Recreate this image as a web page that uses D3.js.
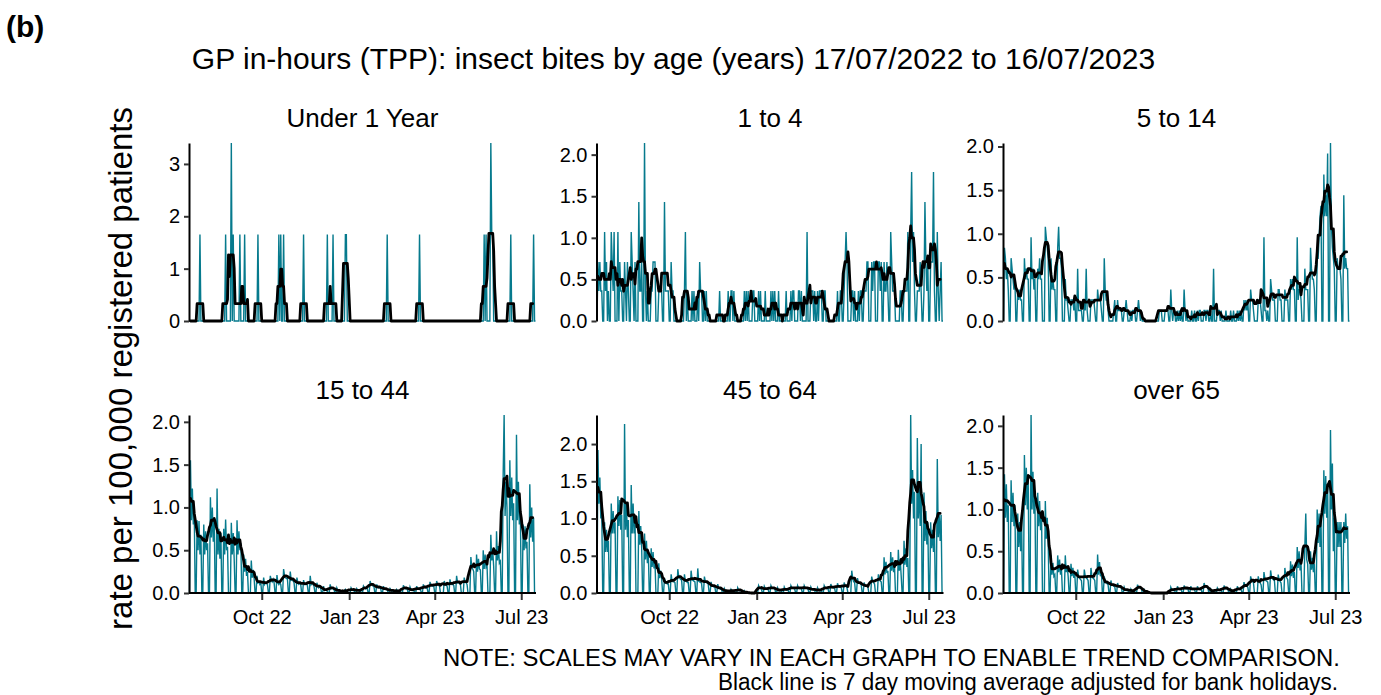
<!DOCTYPE html>
<html>
<head>
<meta charset="utf-8">
<script src="https://cdn.jsdelivr.net/npm/d3@7"></script>
<style>
  body { margin: 0; background: #fff; }
  svg { display: block; }
  text { font-family: "Liberation Sans", Arial, Helvetica, sans-serif; fill: #000; }
</style>
</head>
<body>
<svg id="chart" width="1381" height="695"></svg>
<script>
// ---- period and calendar ----
const startDate = "2022-07-17";
const endDate = "2023-07-16";
const bankHolidays = ["2022-08-29", "2022-09-19", "2022-12-26", "2022-12-27", "2023-01-02",
                      "2023-04-07", "2023-04-10", "2023-05-01", "2023-05-08", "2023-05-29"];

const panelTitles = ["Under 1 Year", "1 to 4", "5 to 14", "15 to 44", "45 to 64", "over 65"];
const tickDates = ["2022-10-01", "2023-01-01", "2023-04-01", "2023-07-01"];
const tickLabels = ["Oct 22", "Jan 23", "Apr 23", "Jul 23"];
const yTicksUnder1 = [0, 1, 2, 3];
const yTicksOther = [0, 0.5, 1, 1.5, 2];

// ---- Under 1 Year: the few days with any consultation (days since 17/07/2022) ----
const under1Days  = [11, 38, 44, 46, 53, 58, 72, 94, 96, 99, 120, 145, 151, 164, 165,
                     208, 242, 310, 312, 317, 318, 319, 338, 362];
const under1Rates = [1.65, 1.65, 3.4, 1.65, 1.65, 1.65, 1.65, 1.65, 1.65, 1.65, 1.65, 1.65, 1.65, 1.65, 1.65,
                     1.65, 1.65, 1.65, 1.65, 3.4, 1.65, 1.65, 1.65, 1.65];

// ---- other bands: daily rate, Monday..Friday of each week (weeks start Sun 17/07/2022) ----
const rate1to4 = [
  [0.71,0.36,0.71,0.36,0.36],[1.07,0.36,0.71,0,0.36],[1.07,0.71,0.36,1.07,0],[1.07,0,0.71,0.36,0.36],
  [0.71,0.36,0,0.71,0.36],[1.07,0.71,0.36,0,0.71],[0,1.43,0.36,0.36,0.71],[2.14,0.36,0,0.36,0],
  [0.36,0.36,0.71,0.71,0.71],[0,0.36,0.36,0.36,0.36],[1.43,0.36,0.36,0.36,0.36],[0.71,0.36,0.36,0,0],
  [0,0,0,0,0],[0.36,1.07,0,0.36,0],[0,0.36,0,0.36,0],[0.36,0,0.71,0.36,0.36],
  [0.36,0,0.36,0,0],[0,0,0,0,0],[0,0,0.36,0,0],[0,0,0,0,0.36],
  [0.36,0.36,0,0.36,0],[0,0,0,0,0],[0.36,0,0.36,0,0.36],[0,0,0.36,0.36,0],
  [0,0.36,0,0.36,0],[0,0.36,0,0,0],[0.36,0,0.36,0,0.36],[0,0.36,0,0,0],
  [0,0,0.36,0,0],[0.36,0,0.36,0.36,0],[0,0.36,0.36,0,0.36],[0,0,0,1.07,0],
  [0.36,0.36,0.36,0,0.36],[0.36,0,0.36,0.36,0.36],[0.36,0.36,0,0,0],[0,0,0,0,0],
  [0.36,0,0,0.36,0.36],[0.36,0.71,1.07,0.71,0],[0,0.36,0.36,0,0.36],[0,0.36,0,0.36,0.36],
  [0.36,0.36,0.36,0.71,0.71],[0,0.71,0.36,0.71,0.71],[0,0.71,0.71,0.36,0.71],[0.71,0.36,0.36,0.71,0.36],
  [1.07,0.71,0.36,0.36,0.36],[0,0,0,0.36,0.36],[0.36,0.36,0.36,0.36,1.07],[1.07,1.79,0.71,1.07,0.36],
  [0.36,0.36,0.36,0.71,0.36],[0.36,1.43,0.71,0.36,0.71],[0.71,0.71,0.71,1.79,0.36],[1.07,0.36,0,0.36,0.71]
];

const rate5to14 = [
  [0.84,0.72,0.48,0.6,0.36],[0.72,0.6,0.48,0.36,0.48],[0.36,0.24,0.36,0.24,0.24],[0.72,0.48,0.6,0.48,0.48],
  [0.96,0.48,0.6,0.36,0.48],[0.6,0.48,0.72,0.48,0.48],[0,1.08,0.96,0.84,0.72],[0.72,0.36,0.48,0.36,0.36],
  [0.84,1.08,0.72,0.72,0.6],[0,0.48,0.24,0.24,0.12],[0.24,0.24,0.24,0.12,0.24],[0.6,0.12,0.12,0.12,0.12],
  [0.24,0.12,0.6,0.12,0],[0.24,0.24,0.24,0.24,0.12],[0.36,0.24,0.24,0.24,0.12],[0.72,0.36,0.24,0.24,0.12],
  [0,0,0,0.12,0.24],[0.24,0.12,0.12,0.12,0.12],[0.12,0.12,0.24,0.12,0],[0.12,0,0.12,0.12,0.12],
  [0.12,0.24,0.12,0,0.12],[0,0,0,0,0],[0,0,0,0,0],[0,0,0.12,0.12,0.12],
  [0,0.12,0.12,0.12,0.12],[0.36,0.12,0,0.12,0.12],[0.12,0,0.12,0,0.12],[0.36,0.12,0,0.12,0],
  [0,0.12,0,0,0.12],[0.12,0,0.12,0.12,0],[0.12,0.12,0,0.12,0.12],[0.12,0,0,0.6,0],
  [0.12,0.12,0.12,0,0.12],[0,0,0.12,0,0],[0.12,0,0,0.12,0],[0.12,0,0.12,0,0.12],
  [0.24,0.12,0.24,0.12,0.24],[0.36,0.24,0.24,0.12,0],[0,0.24,0.24,0.24,0.12],[0.96,0.12,0.12,0,0.12],
  [0.48,0.36,0.24,0.24,0.24],[0,0.36,0.36,0.24,0.24],[0,0.36,0.24,0.24,0.24],[0.48,0.36,0.48,0.36,0.36],
  [0.96,0.24,0.36,0.36,0.24],[0,0.6,0.36,0.36,0.36],[0.84,0.6,0.48,0.48,0.36],[0.72,0.72,0.96,1.2,1.32],
  [1.68,1.2,1.44,1.2,1.92],[2.04,1.08,0.84,0.72,0.6],[0.72,0.6,0.6,0.6,0.48],[1.44,0.6,0.72,0.6,0.6]
];

const rate15to44 = [
  [1.55,0.85,1.22,0.8,0.93],[0.85,0.5,0.84,0.45,0.68],[0.8,0.45,0.72,0.5,0.58],[1.12,0.65,1.0,0.6,0.88],
  [1.22,0.45,0.75,0.4,0.7],[0.75,0.45,0.86,0.5,0.54],[0,0.82,0.45,0.7,0.4],[0.85,0.45,0.72,0.5,0.58],
  [0.45,0.25,0.4,0.2,0.25],[0,0.38,0.18,0.27,0.17],[0.2,0.12,0.13,0.1,0.12],[0.18,0.1,0.12,0.11,0.1],
  [0.2,0.15,0.13,0.16,0.12],[0.21,0.12,0.1,0.12,0.1],[0.28,0.2,0.18,0.17,0.17],[0.25,0.15,0.16,0.14,0.12],
  [0.18,0.12,0.1,0.11,0.1],[0.15,0.1,0.1,0.11,0.09],[0.2,0.1,0.12,0.1,0.08],[0.12,0.08,0.06,0.08,0.06],
  [0.08,0.03,0.04,0.03,0.02],[0.1,0.05,0.06,0.05,0.04],[0.06,0.03,0.02,0.03,0.01],[0,0,0.04,0.02,0.02],
  [0,0.06,0.04,0.03,0.03],[0.05,0.03,0.03,0.02,0.02],[0.08,0.06,0.05,0.06,0.05],[0.14,0.1,0.1,0.08,0.08],
  [0.1,0.07,0.06,0.06,0.06],[0.08,0.05,0.04,0.04,0.04],[0.05,0.03,0.02,0.03,0.02],[0.04,0.02,0.03,0.02,0.02],
  [0.09,0.06,0.05,0.05,0.05],[0.07,0.04,0.03,0.03,0.03],[0.08,0.05,0.05,0.04,0.04],[0.1,0.07,0.06,0.06,0.06],
  [0.13,0.09,0.08,0.08,0.08],[0.14,0.1,0.09,0.08,0],[0,0.14,0.1,0.09,0.08],[0.16,0.11,0.1,0.1,0.09],
  [0.2,0.12,0.12,0.11,0.1],[0,0.18,0.13,0.12,0.1],[0,0.42,0.3,0.28,0.25],[0.45,0.25,0.4,0.28,0.27],
  [0.5,0.28,0.45,0.3,0.32],[0,0.68,0.38,0.5,0.31],[0.72,0.38,0.55,0.35,0.37],[1.4,2.08,0.9,1.3,1.0],
  [1.55,0.9,1.35,0.85,1.05],[1.85,0.85,1.3,0.8,1.0],[0.8,0.5,0.78,0.52,0.6],[1.27,0.65,1.0,0.6,0.88]
];

const rate45to64 = [
  [1.92,1.2,1.55,1.0,1.1],[0.95,0.55,0.85,0.55,0.7],[1.2,0.8,1.1,0.8,0.95],[1.3,0.9,1.25,0.85,1.05],
  [2.27,0.85,1.2,0.75,0.98],[1.45,0.8,1.2,0.8,1.0],[0,1.1,0.65,0.9,0.6],[0.8,0.45,0.7,0.4,0.55],
  [0.6,0.35,0.55,0.33,0.42],[0,0.4,0.2,0.3,0.2],[0.2,0.14,0.13,0.12,0.12],[0.25,0.16,0.15,0.15,0.14],
  [0.32,0.22,0.2,0.18,0.18],[0.25,0.16,0.16,0.14,0.14],[0.3,0.18,0.17,0.16,0.15],[0.33,0.16,0.15,0.14,0.13],
  [0.22,0.15,0.14,0.13,0.12],[0.15,0.1,0.09,0.08,0.08],[0.12,0.07,0.06,0.05,0.05],[0.06,0.03,0.02,0.02,0.02],
  [0.05,0.03,0.03,0.02,0.02],[0.07,0.04,0.03,0.03,0.03],[0.03,0.01,0,0.01,0],[0,0,0,0,0],
  [0,0.1,0.07,0.06,0.05],[0.09,0.06,0.05,0.05,0.05],[0.1,0.07,0.06,0.06,0.06],[0.07,0.04,0.03,0.03,0.03],
  [0.08,0.05,0.04,0.04,0.04],[0.1,0.07,0.07,0.06,0.05],[0.1,0.07,0.06,0.06,0.06],[0.1,0.07,0.07,0.06,0.05],
  [0.08,0.05,0.05,0.04,0.03],[0.07,0.04,0.03,0.03,0.03],[0.1,0.07,0.06,0.06,0.06],[0.12,0.08,0.07,0.07,0.06],
  [0.13,0.09,0.08,0.08,0.07],[0.14,0.1,0.09,0.07,0],[0,0.3,0.2,0.15,0.15],[0.2,0.14,0.13,0.12,0.11],
  [0.14,0.1,0.09,0.09,0.08],[0,0.22,0.16,0.14,0.12],[0,0.25,0.18,0.16,0.15],[0.48,0.25,0.42,0.27,0.3],
  [0.55,0.3,0.48,0.28,0.36],[0,0.58,0.3,0.45,0.23],[0.7,0.38,0.6,0.35,0.47],[2.39,1.2,1.65,1.0,1.36],
  [2.08,1.0,1.45,0.9,2.0],[1.35,0.7,1.1,0.65,0.95],[0.95,0.6,0.85,0.55,0.8],[1.8,0.75,1.05,0.7,1.05]
];

const rateOver65 = [
  [1.42,0.9,1.3,0.85,1.05],[1.35,0.85,1.2,0.8,1.05],[0.95,0.55,0.85,0.5,0.9],[1.65,1.05,1.5,1.0,1.35],
  [2.13,1.0,1.45,0.95,1.2],[1.2,0.8,1.1,0.75,0.95],[0,1.1,0.65,0.9,0.6],[0.45,0.22,0.36,0.2,0.22],
  [0.45,0.25,0.4,0.22,0.28],[0,0.45,0.25,0.33,0.2],[0.35,0.2,0.3,0.18,0.23],[0.28,0.2,0.18,0.16,0.15],
  [0.28,0.2,0.18,0.17,0.15],[0.3,0.2,0.18,0.17,0.15],[0.46,0.22,0.37,0.2,0.25],[0.2,0.13,0.12,0.11,0.1],
  [0.15,0.1,0.09,0.08,0.08],[0.12,0.08,0.07,0.07,0.06],[0.07,0.04,0.03,0.03,0.03],[0.05,0.03,0.02,0.02,0.02],
  [0.1,0.07,0.06,0.06,0.06],[0.04,0.02,0.02,0.01,0.01],[0,0,0,0,0],[0,0,0,0,0],
  [0,0,0,0,0],[0.07,0.04,0.03,0.03,0.03],[0.08,0.05,0.04,0.04,0.04],[0.09,0.06,0.05,0.05,0.05],
  [0.08,0.05,0.04,0.04,0.04],[0.08,0.05,0.04,0.04,0.04],[0.12,0.08,0.07,0.07,0.06],[0.05,0.03,0.02,0.02,0.02],
  [0.06,0.04,0.03,0.03,0.03],[0.09,0.06,0.05,0.05,0.05],[0.05,0.03,0.02,0.02,0.02],[0.08,0.05,0.04,0.04,0.04],
  [0.13,0.09,0.08,0.08,0.07],[0.2,0.15,0.14,0.12,0],[0,0.2,0.14,0.12,0.1],[0.25,0.17,0.15,0.14,0.13],
  [0.27,0.19,0.17,0.16,0.15],[0,0.22,0.16,0.14,0.12],[0,0.3,0.2,0.18,0.16],[0.38,0.2,0.34,0.18,0.25],
  [0.55,0.3,0.5,0.27,0.35],[0,0.55,0.95,0.4,0.35],[0.5,0.28,0.42,0.25,0.35],[1.0,0.6,0.95,0.55,0.9],
  [1.47,0.95,1.4,0.9,1.28],[1.95,1.0,1.55,0.5,0.9],[0.85,0.55,0.85,0.55,0.85],[0.85,0.6,0.95,0.65,0.8]
];

// ---- build daily series ----
const parse = d3.utcParse("%Y-%m-%d");
const t0 = parse(startDate), t1 = parse(endDate);
const days = d3.utcDay.range(t0, d3.utcDay.offset(t1, 1));
const holidaySet = new Set(bankHolidays);
const fmtKey = d3.utcFormat("%Y-%m-%d");
const isWorkday = days.map(d => d.getUTCDay() !== 0 && d.getUTCDay() !== 6 && !holidaySet.has(fmtKey(d)));

function fromSparse(idx, vals) {
  const out = days.map(() => 0);
  idx.forEach((d, i) => { out[d] = vals[i]; });
  return out;
}
function fromWeeks(weeks) {
  return days.map((d, i) => {
    const wd = d.getUTCDay();
    if (wd === 0 || wd === 6) return 0;
    const w = Math.floor(i / 7);
    return weeks[w] ? weeks[w][wd - 1] : 0;
  });
}
const series = [
  fromSparse(under1Days, under1Rates),
  fromWeeks(rate1to4),
  fromWeeks(rate5to14),
  fromWeeks(rate15to44),
  fromWeeks(rate45to64),
  fromWeeks(rateOver65)
];

// centred 7-day mean over the working days in the window (weekends and bank holidays excluded)
function movingAverage(vals) {
  return vals.map((_, i) => {
    let s = 0, n = 0;
    for (let j = i - 3; j <= i + 3; j++) {
      if (j < 0 || j >= vals.length) continue;
      s += vals[j];
      if (isWorkday[j]) n++;
    }
    return n ? s / n : 0;
  });
}

// ---- layout ----
const svg = d3.select("#chart");
const colLeft = [189, 596.5, 1003];
const panelW = 347;
const rowTop = [143, 415], rowBottom = [321, 593];
const teal = "#067A8D";

svg.append("text").attr("x", 6).attr("y", 37)
  .style("font-size", "30px").style("font-weight", "bold").text("(b)");
svg.append("text").attr("x", 673.5).attr("y", 69).attr("text-anchor", "middle")
  .style("font-size", "30px")
  .text("GP in-hours (TPP): insect bites by age (years) 17/07/2022 to 16/07/2023");
svg.append("text").attr("transform", "translate(132,368.5) rotate(-90)")
  .attr("text-anchor", "middle").style("font-size", "33px")
  .text("rate per 100,000 registered patients");

series.forEach((vals, p) => {
  const col = p % 3, row = Math.floor(p / 3);
  const L = colLeft[col];
  const top = rowTop[row], bottom = rowBottom[row];
  const x = d3.scaleUtc().domain([t0, t1]).range([L + 0.5, L + panelW - 0.5]);
  const y = d3.scaleLinear().domain([0, d3.max(vals)]).range([bottom, top]);
  const ma = movingAverage(vals);
  const g = svg.append("g");

  g.append("path")
    .datum(vals)
    .attr("fill", "none").attr("stroke", teal).attr("stroke-width", 1.4)
    .attr("d", d3.line().x((d, i) => x(days[i])).y(d => y(d)));

  const maIdx = d3.range(1, 362);
  g.append("path")
    .datum(maIdx)
    .attr("fill", "none").attr("stroke", "#000").attr("stroke-width", 2.8)
    .attr("stroke-linejoin", "round").attr("stroke-linecap", "round")
    .attr("d", d3.line().x(i => x(days[i])).y(i => y(ma[i])));

  // y axis
  const yAxis = d3.axisLeft(y)
    .tickValues(p === 0 ? yTicksUnder1 : yTicksOther)
    .tickFormat(p === 0 ? d3.format("d") : d3.format(".1f"))
    .tickSize(5).tickSizeOuter(0).tickPadding(4);
  const ya = g.append("g").attr("transform", `translate(${L},0)`).call(yAxis);
  ya.select(".domain").attr("stroke", "#000").attr("stroke-width", 2);
  ya.selectAll(".tick line").attr("stroke", "#333").attr("stroke-width", 2);
  ya.selectAll(".tick text").style("font-size", "20px").style("font-family", null).attr("fill", "#1a1a1a");

  // strip title
  svg.append("text").attr("x", L + panelW / 2).attr("y", top - 16)
    .attr("text-anchor", "middle").style("font-size", "26px").attr("fill", "#1a1a1a")
    .text(panelTitles[p]);

  // x axis on the bottom row only
  if (row === 1) {
    const xAxis = d3.axisBottom(x)
      .tickValues(tickDates.map(parse))
      .tickFormat((d, i) => tickLabels[i])
      .tickSize(7).tickSizeOuter(0).tickPadding(10);
    const xa = g.append("g").attr("transform", `translate(0,${bottom})`).call(xAxis);
    xa.select(".domain").remove();
    xa.append("line").attr("x1", L).attr("x2", L + panelW).attr("stroke", "#000").attr("stroke-width", 2);
    xa.selectAll(".tick line").attr("stroke", "#333").attr("stroke-width", 2);
    xa.selectAll(".tick text").style("font-size", "20px").style("font-family", null).attr("fill", "#1a1a1a");
  }
});

// footnotes
svg.append("text").attr("x", 1340).attr("y", 666).attr("text-anchor", "end")
  .style("font-size", "23px").style("font-family", "'Liberation Sans Narrow', 'Arial Narrow', 'Liberation Sans', sans-serif")
  .attr("textLength", 897).attr("lengthAdjust", "spacingAndGlyphs")
  .text("NOTE: SCALES MAY VARY IN EACH GRAPH TO ENABLE TREND COMPARISON.");
svg.append("text").attr("x", 1338).attr("y", 690).attr("text-anchor", "end")
  .style("font-size", "23px").style("font-family", "'Liberation Sans Narrow', 'Arial Narrow', 'Liberation Sans', sans-serif")
  .attr("textLength", 620).attr("lengthAdjust", "spacingAndGlyphs")
  .text("Black line is 7 day moving average adjusted for bank holidays.");
</script>
</body>
</html>
